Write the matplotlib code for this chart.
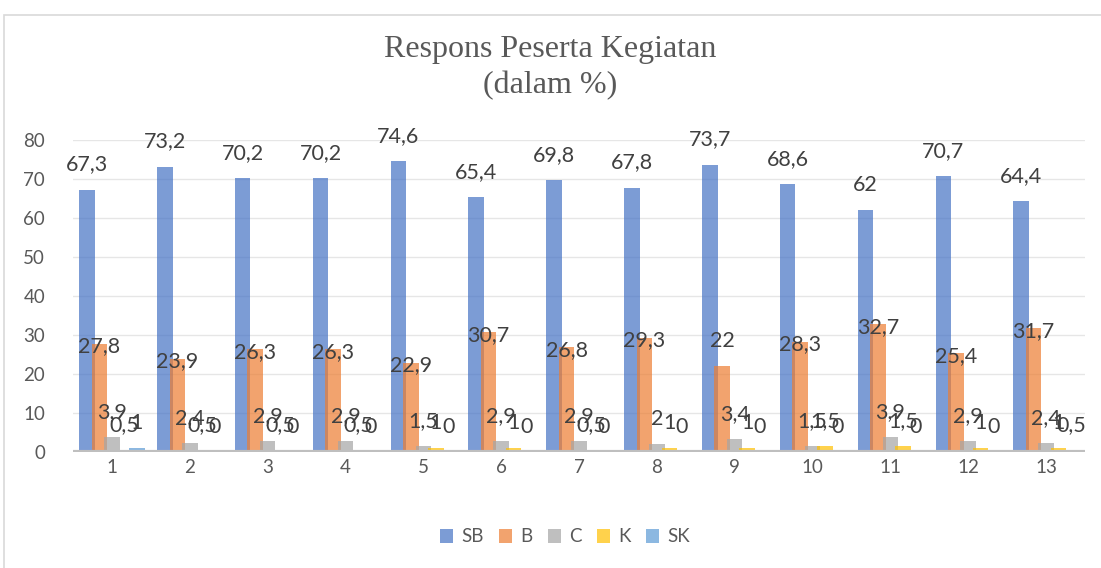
import numpy as np
import matplotlib
matplotlib.use("Agg")
import matplotlib.pyplot as plt
from matplotlib.patches import Rectangle

# data (percent)
categories = [str(i) for i in range(1, 14)]
sb = [67.3, 73.2, 70.2, 70.2, 74.6, 65.4, 69.8, 67.8, 73.7, 68.6, 62, 70.7, 64.4]
b = [27.8, 23.9, 26.3, 26.3, 22.9, 30.7, 26.8, 29.3, 22, 28.3, 32.7, 25.4, 31.7]
c = [3.9, 2.4, 2.9, 2.9, 1.5, 2.9, 2.9, 2, 3.4, 1.5, 3.9, 2.9, 2.4]
k = [0.5, 0.5, 0.5, 0.5, 1, 1, 0.5, 1, 1, 1.5, 1.5, 1, 1]
sk = [1, 0, 0, 0, 0, 0, 0, 0, 0, 0, 0, 0, 0.5]
series_names = ["SB", "B", "C", "K", "SK"]

colors = ["#4472C4", "#ED7D31", "#A5A5A5", "#FFC000", "#5B9BD5"]
txt = "#404040"
font = ["Lato", "DejaVu Sans"]

fig = plt.figure(figsize=(11.01, 5.68), dpi=100)
fig.patches.append(Rectangle((4 / 1101, -0.01), 1.0, 1 - 15 / 568 + 0.01,
                             transform=fig.transFigure, fill=False,
                             edgecolor="#D9D9D9", linewidth=1.2))

ax = fig.add_axes([73 / 1101, 1 - 452 / 568, 1012 / 1101, 312 / 568])
x = np.arange(len(categories))
width = 0.2
step = 0.16
all_series = [sb, b, c, k, sk]

for i, (vals, col, name) in enumerate(zip(all_series, colors, series_names)):
    off = (i - 2) * step
    ax.bar(x + off, vals, width, color=col, alpha=0.7, label=name,
           zorder=2 + i, linewidth=0)

# labels sit well above the bars, except most of the B labels which
# Excel left sitting on the bar top
for i, vals in enumerate(all_series):
    off = (i - 2) * step
    for j, (xi, v) in enumerate(zip(x, vals)):
        dy = 18
        if i == 1 and j != 8:
            dy = -2
        ax.annotate(f"{v:g}".replace(".", ","), (xi + off, v),
                    xytext=(0, dy), textcoords="offset points",
                    ha="center", va="center", fontsize=15.5, color=txt,
                    family=font, zorder=10, annotation_clip=False)

ax.set_xlim(-0.5, len(categories) - 0.5)
ax.set_ylim(0, 80)
ax.set_yticks(range(0, 81, 10))
ax.set_xticks(x)
ax.set_xticklabels(categories)
ax.yaxis.grid(True, color="#E6E6E6", linewidth=1, zorder=0)
ax.set_axisbelow(True)
for s in ["top", "right", "left", "bottom"]:
    ax.spines[s].set_visible(False)
ax.axhline(0, color="#BFBFBF", linewidth=3, zorder=9)
ax.tick_params(axis="both", length=0, labelsize=13.5, colors="#595959")
ax.tick_params(axis="y", pad=20)
ax.tick_params(axis="x", pad=5)
for lab in ax.get_xticklabels() + ax.get_yticklabels():
    lab.set_family(font)

fig.text(0.5, 1 - 50 / 568, "Respons Peserta Kegiatan", ha="center",
         va="center", fontsize=23, color="#595959", family="Liberation Serif")
fig.text(0.5, 1 - 86 / 568, "(dalam %)", ha="center",
         va="center", fontsize=23, color="#595959", family="Liberation Serif")

leg = fig.legend(loc="center", bbox_to_anchor=(565 / 1101, 1 - 537 / 568), ncol=5,
                 frameon=False, handlelength=0.7, handleheight=0.7,
                 handletextpad=0.45, columnspacing=0.8,
                 prop={"family": font, "size": 13.5})
for t in leg.get_texts():
    t.set_color("#595959")

fig.savefig("out.png", dpi=100)
